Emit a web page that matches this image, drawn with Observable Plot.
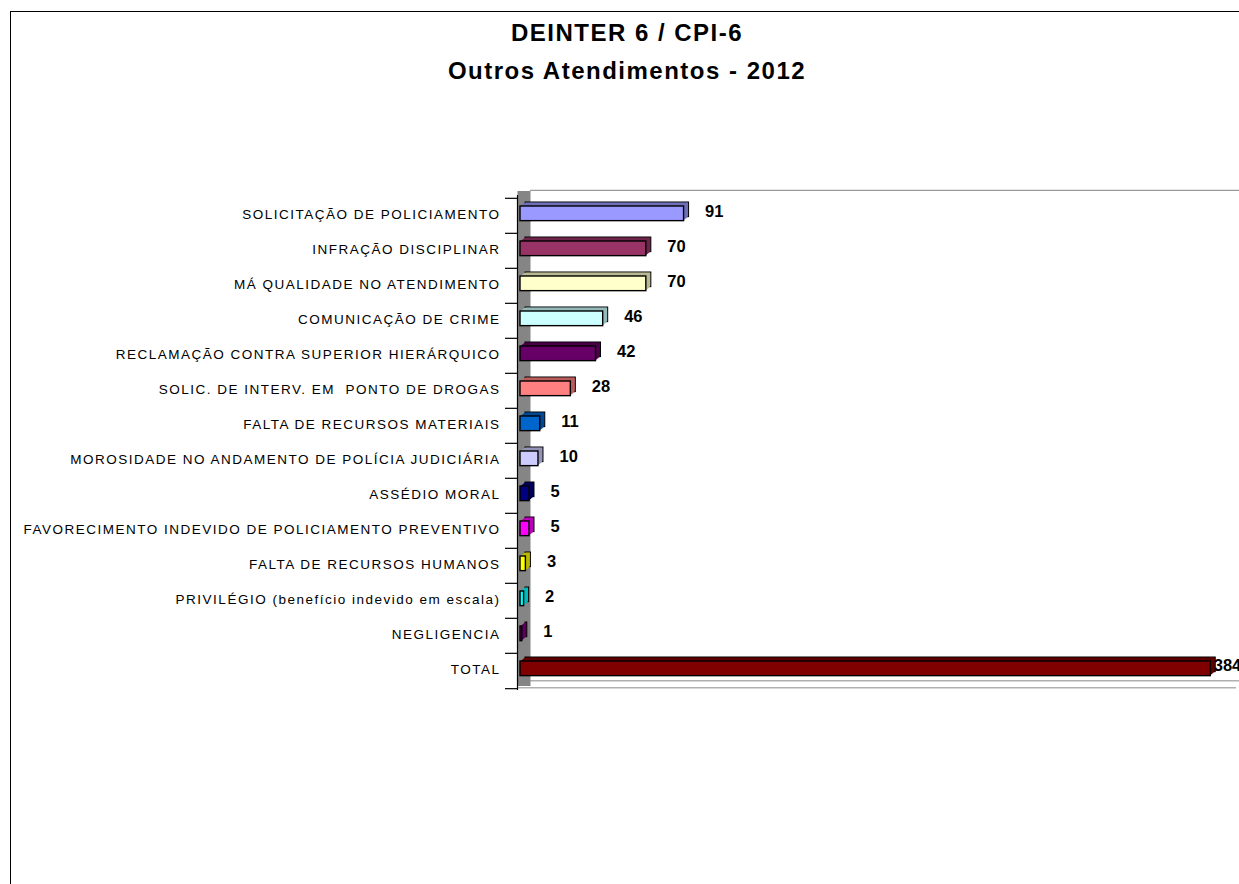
<!DOCTYPE html>
<html>
<head>
<meta charset="utf-8">
<script src="https://cdn.jsdelivr.net/npm/d3@7"></script>
<script src="https://cdn.jsdelivr.net/npm/@observablehq/plot@0.6"></script>
<style>
  html, body { margin: 0; padding: 0; background: #fff; width: 1239px; height: 884px; overflow: hidden; }
  body { position: relative; font-family: Arial, "Liberation Sans", sans-serif; }
  #border { position: absolute; left: 10px; top: 11px; right: -5px; bottom: -5px; border-left: 1.5px solid #000; border-top: 1.5px solid #000; }
  #title { position: absolute; left: 0; width: 1254px; top: 14px; text-align: center; font-weight: bold; font-size: 24px; line-height: 38px; letter-spacing: 1.5px; color: #000; }
  #chart { position: absolute; left: 0; top: 0; }
  #chart g[aria-label="y-axis tick label"] text { letter-spacing: 1.5px; }
</style>
</head>
<body>
<div id="border"></div>
<div id="title">DEINTER 6 / CPI-6<br>Outros Atendimentos - 2012</div>
<div id="chart"></div>
<script>
const categories = [
  "SOLICITAÇÃO DE POLICIAMENTO",
  "INFRAÇÃO DISCIPLINAR",
  "MÁ QUALIDADE NO ATENDIMENTO",
  "COMUNICAÇÃO DE CRIME",
  "RECLAMAÇÃO CONTRA SUPERIOR HIERÁRQUICO",
  "SOLIC. DE INTERV. EM  PONTO DE DROGAS",
  "FALTA DE RECURSOS MATERIAIS",
  "MOROSIDADE NO ANDAMENTO DE POLÍCIA JUDICIÁRIA",
  "ASSÉDIO MORAL",
  "FAVORECIMENTO INDEVIDO DE POLICIAMENTO PREVENTIVO",
  "FALTA DE RECURSOS HUMANOS",
  "PRIVILÉGIO (benefício indevido em escala)",
  "NEGLIGENCIA",
  "TOTAL"
];
const values = [91, 70, 70, 46, 42, 28, 11, 10, 5, 5, 3, 2, 1, 384];
const colors = ["#9999FF", "#993366", "#FFFFCC", "#CCFFFF", "#660066", "#FF8080", "#0066CC",
                "#CCCCFF", "#000080", "#FF00FF", "#FFFF00", "#00FFFF", "#800080", "#800000"];

const data = categories.map((c, i) => ({cat: c, value: values[i], color: colors[i],
  dark: d3.color(colors[i]).darker(0.9).formatHex()}));

const W = 1239, H = 884, mTop = 195, mBottom = 194;
const bw = (H - mTop - mBottom) / categories.length;
const insTop = 8, insBottom = bw - 23;

const depthMarks = [];
for (let k = 5; k >= 1; k--) {
  depthMarks.push(Plot.barX(data, {
    x: "value", y: "cat", fill: "dark",
    stroke: k === 5 ? "#000" : "none", strokeWidth: 1,
    insetTop: insTop, insetBottom: insBottom,
    dx: k, dy: -0.8 * k
  }));
}

const chart = Plot.plot({
  width: W, height: H,
  marginLeft: 520, marginRight: 0, marginTop: mTop, marginBottom: mBottom,
  x: {domain: [0, 400], axis: null},
  y: {domain: categories, type: "band", padding: 0, axis: null},
  color: {type: "identity"},
  style: {fontFamily: "Arial, 'Liberation Sans', sans-serif", background: "transparent", overflow: "visible", color: "#000"},
  marks: [
    // back wall top edge
    Plot.ruleY([categories[0]], {y: d => d, x1: 0, x2: 400, dx: 10, dy: -bw / 2 - 8, stroke: "#9a9a9a", strokeWidth: 1.2}),
    // floor lines
    Plot.ruleY([categories[categories.length - 1]], {y: d => d, x1: 0, x2: 400, dx: 10, dy: bw / 2 - 8, stroke: "#b0b0b0", strokeWidth: 1.5}),
    Plot.ruleY([categories[categories.length - 1]], {y: d => d, x1: 0, x2: 400, dx: -3, dy: bw / 2 - 1, stroke: "#b0b0b0", strokeWidth: 1.5}),
    // side wall
    Plot.ruleX([0], {dx: 3.5, dy: -4, stroke: "#858585", strokeWidth: 13}),
    // axis line
    Plot.ruleX([0], {dx: -3, stroke: "#000", strokeWidth: 1.2}),
    // category boundary ticks
    Plot.axisY({anchor: "left", tickSize: 12, tickFormat: () => "", dx: -3, dy: -bw / 2, label: null, strokeWidth: 1.2}),
    Plot.axisY({anchor: "left", ticks: [categories[categories.length - 1]], tickSize: 12, tickFormat: () => "", dx: -3, dy: bw / 2, label: null, strokeWidth: 1.2}),
    // category labels
    Plot.axisY({anchor: "left", tickSize: 0, tickPadding: 20, fontSize: 13.5, label: null, dy: -1}),
    // bars: depth then front face
    ...depthMarks,
    Plot.barX(data, {
      x: "value", y: "cat", fill: "color", stroke: "#000", strokeWidth: 1.4,
      insetTop: insTop, insetBottom: insBottom
    }),
    // value labels
    Plot.text(data.slice(0, data.length - 1), {
      x: "value", y: "cat", text: d => String(d.value), textAnchor: "start",
      dx: 21, dy: -4, fontWeight: "bold", fontSize: 16.5, fill: "#000"
    }),
    Plot.text(data.slice(data.length - 1), {
      x: "value", y: "cat", text: d => String(d.value), textAnchor: "start",
      dx: 3, dy: -5, fontWeight: "bold", fontSize: 16.5, fill: "#000"
    })
  ]
});
document.getElementById("chart").appendChild(chart);
</script>
</body>
</html>
